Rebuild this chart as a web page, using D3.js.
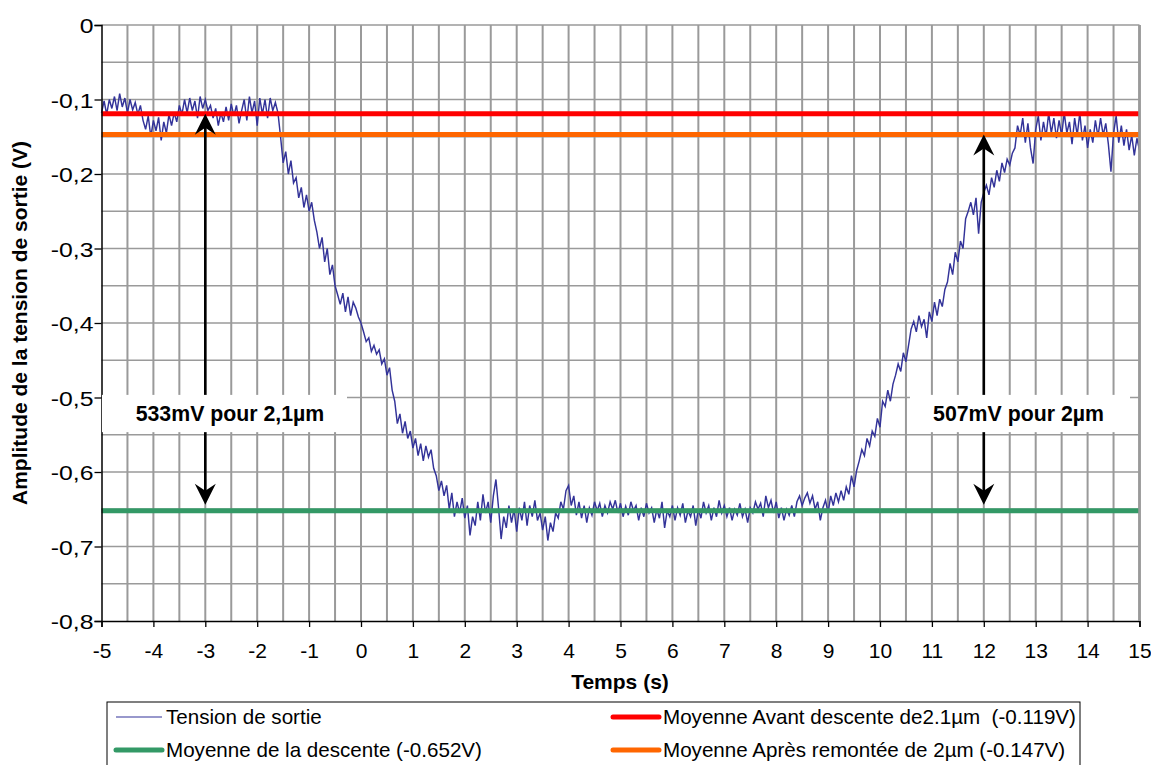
<!DOCTYPE html>
<html><head><meta charset="utf-8">
<script src="https://cdn.jsdelivr.net/npm/d3@7"></script>
<style>
body{margin:0;background:#fff}
svg{display:block}
text{font-family:Arial,"Liberation Sans",sans-serif;fill:#000;white-space:pre}
</style>
</head><body>
<svg id="chart" width="1151" height="765"></svg>
<script>
// ---------------- DATA ----------------
const timeStart = -5, timeEnd = 15;   // evenly sampled, 0.05 s
// "Tension de sortie" in mV, one row per second
const tensionMv = [
-118,-102,-120,-100,-112,-96,-115,-92,-110,-98,-118,-100,-114,-104,-120,-108,-128,-140,-122,-150,
-128,-142,-124,-155,-130,-145,-120,-135,-118,-130,-108,-120,-100,-118,-98,-115,-102,-125,-96,-112,
-100,-115,-108,-125,-112,-135,-118,-130,-110,-128,-106,-122,-108,-132,-115,-100,-128,-96,-118,-102,
-135,-98,-120,-100,-125,-98,-115,-104,-118,-150,-185,-170,-200,-182,-212,-205,-232,-218,-245,-228,
-250,-238,-262,-278,-300,-285,-318,-300,-335,-322,-350,-362,-375,-360,-385,-365,-390,-372,-380,-392,
-400,-412,-425,-420,-438,-430,-442,-436,-455,-448,-470,-460,-490,-505,-535,-522,-548,-532,-555,-545,
-568,-555,-578,-562,-585,-565,-580,-570,-595,-605,-625,-612,-632,-618,-650,-628,-660,-640,-655,-635,
-662,-645,-685,-660,-672,-640,-665,-630,-655,-640,-668,-632,-610,-648,-690,-660,-675,-645,-668,-650,
-680,-648,-665,-640,-672,-645,-660,-638,-665,-655,-678,-660,-692,-668,-680,-655,-662,-640,-650,-625,
-618,-645,-632,-658,-640,-662,-645,-668,-648,-658,-640,-652,-642,-660,-645,-655,-640,-650,-638,-655,
-642,-660,-646,-658,-640,-652,-645,-665,-648,-660,-642,-655,-648,-668,-650,-662,-640,-675,-652,-660,
-645,-665,-648,-658,-642,-668,-652,-660,-645,-672,-650,-662,-640,-655,-645,-665,-648,-660,-638,-655,
-645,-660,-648,-665,-650,-658,-642,-660,-650,-668,-648,-655,-640,-650,-642,-660,-632,-648,-638,-655,
-640,-662,-648,-665,-650,-658,-645,-660,-640,-632,-645,-635,-628,-642,-632,-650,-640,-665,-648,-638,
-655,-632,-645,-628,-640,-625,-638,-620,-630,-605,-620,-598,-585,-570,-578,-555,-565,-545,-552,-528,
-540,-505,-512,-490,-505,-482,-470,-455,-465,-440,-452,-430,-408,-398,-412,-390,-405,-395,-420,-385,
-398,-372,-390,-368,-378,-355,-345,-320,-335,-305,-318,-290,-300,-260,-250,-238,-255,-232,-280,-238,
-225,-215,-228,-205,-218,-195,-210,-185,-198,-180,-188,-172,-165,-135,-148,-125,-158,-132,-165,-186,
-140,-122,-155,-130,-150,-118,-145,-125,-152,-128,-148,-118,-145,-130,-160,-125,-148,-118,-155,-135,
-165,-140,-158,-128,-150,-125,-148,-132,-160,-197,-145,-122,-158,-135,-162,-140,-168,-148,-175,-152,
-168
];
const seriesName = "Tension de sortie";

const avgNames  = ["Moyenne Avant descente de2.1µm  (-0.119V)", "Moyenne de la descente (-0.652V)", "Moyenne Après remontée de 2µm (-0.147V)"];
const avgValues = [-0.119, -0.652, -0.147];

const xTickValues = [-5,-4,-3,-2,-1,0,1,2,3,4,5,6,7,8,9,10,11,12,13,14,15];
const xTickLabels = ["-5","-4","-3","-2","-1","0","1","2","3","4","5","6","7","8","9","10","11","12","13","14","15"];
const yTickValues = [0,-0.1,-0.2,-0.3,-0.4,-0.5,-0.6,-0.7,-0.8];
const yTickLabels = ["0","-0,1","-0,2","-0,3","-0,4","-0,5","-0,6","-0,7","-0,8"];

const annotTimes  = [-3, 12];
const annotFrom   = [-0.119, -0.147];
const annotTo     = [-0.652, -0.652];
const annotLabels = ["533mV pour 2,1µm", "507mV pour 2µm"];

const xTitle = "Temps (s)";
const yTitle = "Amplitude de la tension de sortie (V)";

// ---------------- STYLE / LAYOUT ----------------
const plot = {left:101.5, right:1139.5, top:25, bottom:621};
const seriesColor = "#333399";
const avgColors = ["#ff0000", "#339966", "#ff6600"];
const gridColor = "#9a9a9a";
const TICKFONT = 21, LEGFONT = 20.6, ANNFONT = 21.3;
const annotBoxes = [{x0:102, x1:347, cx:230}, {x0:910, x1:1130, cx:1018.5}];

const svg = d3.select("#chart");
const x = d3.scaleLinear().domain([timeStart, timeEnd]).range([plot.left, plot.right]);
const y = d3.scaleLinear().domain([-0.8, 0]).range([plot.bottom, plot.top]);

const dt = (timeEnd - timeStart) / (tensionMv.length - 1);
const series = tensionMv.map((v, i) => ({t: timeStart + i * dt, v: v / 1000}));

// grid
const g = svg.append("g");
g.selectAll(".vg").data(d3.range(-4.5, 15.01, 0.5)).join("line")
  .attr("x1", d => x(d)).attr("x2", d => x(d))
  .attr("y1", plot.top).attr("y2", plot.bottom)
  .attr("stroke", gridColor).attr("stroke-width", d => d === 15 ? 2.5 : 2);
g.selectAll(".hg").data(d3.range(0, 16).map(k => -k * 0.05)).join("line")
  .attr("x1", plot.left).attr("x2", plot.right)
  .attr("y1", d => y(d)).attr("y2", d => y(d))
  .attr("stroke", gridColor).attr("stroke-width", 1.6);

// series
svg.append("path").datum(series)
  .attr("fill", "none").attr("stroke", seriesColor).attr("stroke-width", 1.45)
  .attr("d", d3.line().x(d => x(d.t)).y(d => y(d.v)));

// average lines
svg.selectAll(".avg").data(avgValues).join("line")
  .attr("x1", plot.left).attr("x2", plot.right)
  .attr("y1", d => y(d)).attr("y2", d => y(d))
  .attr("stroke", (d, i) => avgColors[i]).attr("stroke-width", 5);

// axes
const xAxis = d3.axisBottom(x).tickValues(xTickValues).tickSize(6).tickFormat((d, i) => xTickLabels[i]);
const yAxis = d3.axisLeft(y).tickValues(yTickValues).tickSize(7).tickFormat((d, i) => yTickLabels[i]);
const gx = svg.append("g").attr("transform", `translate(0,${plot.bottom})`).call(xAxis);
const gy = svg.append("g").attr("transform", `translate(${plot.left},0)`).call(yAxis);
[gx, gy].forEach(a => {
  a.select(".domain").attr("stroke", "#000").attr("stroke-width", 1.5);
  a.selectAll(".tick line").attr("stroke", "#000").attr("stroke-width", 1.3);
  a.selectAll(".tick text").attr("font-size", TICKFONT).attr("font-family", "Arial, Liberation Sans, sans-serif").attr("fill", "#000");
});
gx.selectAll(".tick text").attr("dy", null).attr("y", 37);
gy.selectAll(".tick text").attr("x", null).attr("dy", "0.36em")
  .attr("transform", "translate(-8,0) scale(1.18,1)");
// right border (gray)
svg.append("line").attr("x1", plot.right).attr("x2", plot.right).attr("y1", plot.top).attr("y2", plot.bottom)
  .attr("stroke", gridColor).attr("stroke-width", 2.5);

// annotations: arrows
function arrowHead(px, py, dir) { // dir = -1 pointing up, +1 pointing down
  const L = 21, W = 10.5, N = 14;
  return `M${px},${py} L${px + W},${py - dir * L} L${px},${py - dir * N} L${px - W},${py - dir * L} Z`;
}
annotTimes.forEach((t, i) => {
  const ax = x(t), yTop = y(annotFrom[i]), yBot = y(annotTo[i]) - 6;
  svg.append("line").attr("x1", ax).attr("x2", ax).attr("y1", yTop + 10).attr("y2", yBot - 10)
    .attr("stroke", "#000").attr("stroke-width", 2.6);
  svg.append("path").attr("d", arrowHead(ax, yTop, -1)).attr("fill", "#000");
  svg.append("path").attr("d", arrowHead(ax, yBot, 1)).attr("fill", "#000");
  const b = annotBoxes[i];
  const by0 = y(-0.4965), by1 = y(-0.5465);
  svg.append("rect").attr("x", b.x0).attr("y", by0).attr("width", b.x1 - b.x0).attr("height", by1 - by0).attr("fill", "#fff");
  svg.append("text").attr("x", b.cx).attr("y", (by0 + by1) / 2).attr("dy", "0.36em")
    .attr("text-anchor", "middle").attr("font-weight", "bold").attr("font-size", ANNFONT).text(annotLabels[i]);
});

// axis titles
svg.append("text").attr("x", 620).attr("y", 689)
  .attr("text-anchor", "middle").attr("font-weight", "bold").attr("font-size", 21).text(xTitle);
svg.append("text").attr("transform", `translate(27,${(plot.top + plot.bottom) / 2}) rotate(-90)`)
  .attr("text-anchor", "middle").attr("font-weight", "bold").attr("font-size", 21).text(yTitle);

// legend
const leg = svg.append("g");
leg.append("rect").attr("x", 107).attr("y", 702).attr("width", 973).attr("height", 70)
  .attr("fill", "#fff").attr("stroke", "#000").attr("stroke-width", 1);
const legItems = [
  {name: seriesName, color: seriesColor, w: 1.2, col: 0, row: 0},
  {name: avgNames[0], color: avgColors[0], w: 5, col: 1, row: 0},
  {name: avgNames[1], color: avgColors[1], w: 5, col: 0, row: 1},
  {name: avgNames[2], color: avgColors[2], w: 5, col: 1, row: 1}
];
const colX = [115, 612], rowY = [717, 750];
legItems.forEach(it => {
  const lx = colX[it.col], ly = rowY[it.row];
  leg.append("line").attr("x1", lx + 1).attr("x2", lx + 47).attr("y1", ly).attr("y2", ly)
    .attr("stroke", it.color).attr("stroke-width", it.w).attr("stroke-linecap", it.w > 2 ? "round" : "butt");
  leg.append("text").attr("x", lx + 51).attr("y", ly).attr("dy", "0.36em")
    .attr("font-size", LEGFONT).text(it.name);
});
</script>
</body></html>
